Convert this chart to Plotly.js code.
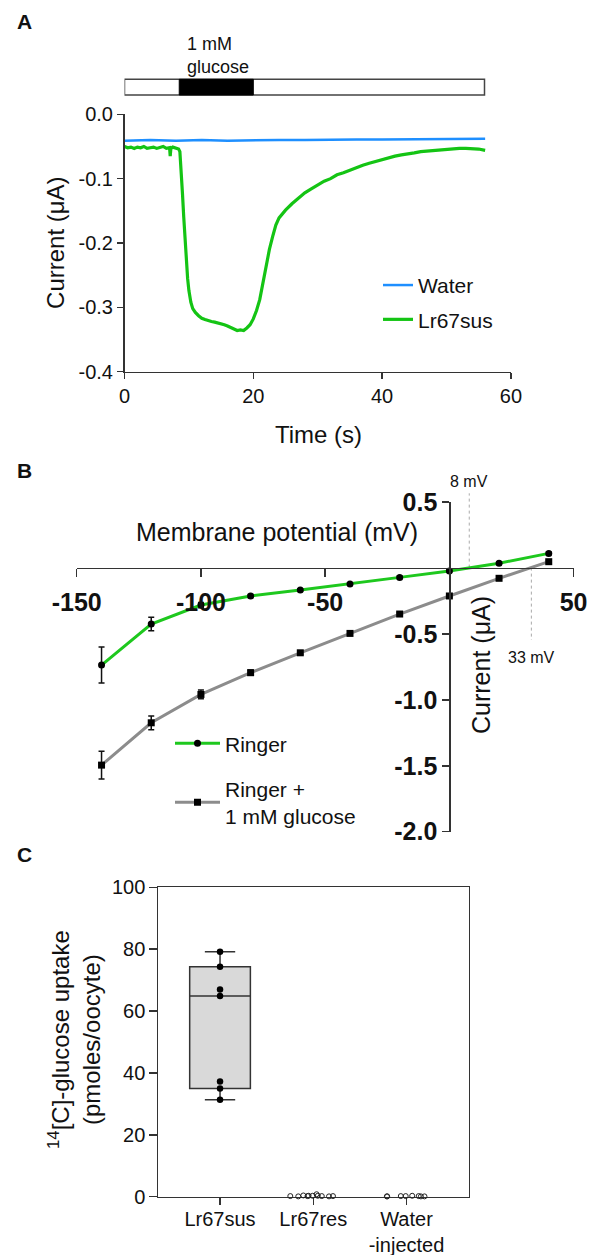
<!DOCTYPE html>
<html>
<head>
<meta charset="utf-8">
<script src="https://cdn.plot.ly/plotly-3.0.1.min.js"></script>
<style>html,body{margin:0;padding:0;background:#fff;}#chart{width:598px;height:1255px;}</style>
</head>
<body>
<div id="chart"></div>
<script>
// ---------- Panel A: current trace ----------
const waterTime = [0,4,8,12,16,20,24,28,32,36,40,44,48,52,56];
const waterCurrent = [-0.041,-0.040,-0.041,-0.040,-0.041,-0.040,-0.040,-0.040,-0.039,-0.039,-0.039,-0.039,-0.038,-0.038,-0.038];
const susTime = [0,0.5,1,1.5,2,2.5,3,3.5,4,4.5,5,5.5,6,6.5,7,7.1,7.2,7.5,8,8.4,8.6,8.8,9.0,9.2,9.4,9.6,9.8,10.0,10.3,10.6,11,11.5,12,12.5,13,13.5,14,14.5,15,15.5,16,16.5,17,17.5,18,18.5,19,19.5,20,20.5,21,21.5,22,22.5,23,23.5,24,24.5,25,26,27,28,29,30,31,32,33,34,35,36,37,38,39,40,41,42,43,44,45,46,47,48,49,50,51,52,53,54,55,56];
const susCurrent = [-0.050,-0.052,-0.051,-0.053,-0.051,-0.052,-0.050,-0.053,-0.052,-0.051,-0.053,-0.052,-0.050,-0.053,-0.052,-0.065,-0.053,-0.051,-0.053,-0.054,-0.058,-0.085,-0.123,-0.160,-0.195,-0.228,-0.255,-0.274,-0.292,-0.302,-0.308,-0.313,-0.317,-0.319,-0.321,-0.322,-0.323,-0.324,-0.325,-0.327,-0.329,-0.331,-0.334,-0.336,-0.335,-0.336,-0.332,-0.327,-0.318,-0.305,-0.288,-0.262,-0.232,-0.210,-0.190,-0.172,-0.161,-0.155,-0.149,-0.139,-0.131,-0.122,-0.116,-0.110,-0.104,-0.100,-0.094,-0.091,-0.087,-0.082,-0.079,-0.076,-0.073,-0.071,-0.068,-0.065,-0.063,-0.062,-0.060,-0.058,-0.057,-0.056,-0.055,-0.054,-0.054,-0.053,-0.053,-0.053,-0.054,-0.056];
const perfusion = [0, 55.9];      // recording bar (s)
const glucosePulse = [8.5, 20];   // 1 mM glucose application (s)
const aXTicks = [0,20,40,60];
const aXTickText = ['0','20','40','60'];
const aYTicks = [0,-0.1,-0.2,-0.3,-0.4];
const aYTickText = ['0.0','-0.1','-0.2','-0.3','-0.4'];

// ---------- Panel B: I-V curves ----------
const potential = [-140,-120,-100,-80,-60,-40,-20,0,20,40];
const ringerI = [-0.736,-0.425,-0.281,-0.212,-0.167,-0.121,-0.071,-0.023,0.036,0.111];
const ringerErr = [0.137,0.051,0.02,0.012,0.01,0.01,0.01,0.01,0.01,0.01];
const glucoseI = [-1.495,-1.174,-0.959,-0.794,-0.643,-0.496,-0.349,-0.212,-0.078,0.048];
const glucoseErr = [0.106,0.052,0.033,0.02,0.012,0.01,0.01,0.01,0.01,0.01];
const reversal = [8, 33];
const reversalText = ['8 mV','33 mV'];
const bXTicks = [-150,-100,-50,50];
const bXTickText = ['-150','-100','-50','50'];
const bYTicks = [0.5,-0.5,-1.0,-1.5,-2.0];
const bYTickText = ['0.5','-0.5','-1.0','-1.5','-2.0'];

// ---------- Panel C: uptake ----------
const categories = ['Lr67sus','Lr67res','Water-injected'];
const catLabels = ['Lr67sus','Lr67res','Water<br>-injected'];
const susUptake = [79.2,74.3,67.0,64.9,37.2,35.0,31.3];
const resUptake = [0.3,0.8,0.2,0.1,0.3,0.2,0.4,0.1,0.2,0.3,0.2];
const waterUptake = [0.1,0.2,0.1,0.2,0.1,0.3,0.1,0.2];
const cYTicks = [0,20,40,60,80,100];

const FONT = 'Liberation Sans, Arial, Helvetica, sans-serif';
const AX = '#333';
const W = 598, H = 1255;
const px = v => v / W;
const py = v => 1 - v / H;

const traces = [
  {x: waterTime, y: waterCurrent, type:'scatter', mode:'lines', name:'Water',
   line:{color:'#1e8fff', width:2.5}, xaxis:'x', yaxis:'y', legend:'legend', legendgroup:'a1'},
  {x: susTime, y: susCurrent, type:'scatter', mode:'lines', name:'Lr67sus',
   line:{color:'#14c414', width:3.2}, xaxis:'x', yaxis:'y', legend:'legend', legendgroup:'a2'},
  {x: potential, y: ringerI, type:'scatter', mode:'lines+markers', name:'Ringer',
   line:{color:'#1ec81e', width:3}, marker:{color:'#000', size:7, symbol:'circle'},
   error_y:{type:'data', array: ringerErr, visible:true, color:'#111', thickness:1.5, width:3},
   cliponaxis:false, xaxis:'x2', yaxis:'y2', legend:'legend2', legendgroup:'b1'},
  {x: potential, y: glucoseI, type:'scatter', mode:'lines+markers', name:'Ringer +<br>1 mM glucose',
   line:{color:'#8c8c8c', width:3}, marker:{color:'#000', size:7, symbol:'square'},
   error_y:{type:'data', array: glucoseErr, visible:true, color:'#111', thickness:1.5, width:3},
   cliponaxis:false, xaxis:'x2', yaxis:'y2', legend:'legend2', legendgroup:'b2'},
  // anchor trace so the framed axes of panel C are drawn (no visible marks)
  {type:'scatter', x:[null], y:[null], mode:'markers', marker:{opacity:0},
   showlegend:false, xaxis:'x3', yaxis:'y3'},
  {type:'box', x: susUptake.map(() => categories[0]), y: susUptake, name: categories[0],
   boxpoints:'all', jitter:0, pointpos:0, width:0.651, whiskerwidth:0.5, quartilemethod:'exclusive',
   fillcolor:'#d9d9d9', line:{color:AX, width:1.5}, marker:{color:'#000', size:6.5},
   showlegend:false, xaxis:'x4', yaxis:'y4'},
  {type:'box', x: resUptake.map(() => categories[1]), y: resUptake, name: categories[1],
   boxpoints:'all', jitter:1, pointpos:0, width:0.651, whiskerwidth:0.5,
   fillcolor:'rgba(0,0,0,0)', line:{color:'rgba(0,0,0,0)', width:1},
   marker:{symbol:'circle-open', color:'#222', size:5, line:{width:1}},
   showlegend:false, xaxis:'x4', yaxis:'y4'},
  {type:'box', x: waterUptake.map(() => categories[2]), y: waterUptake, name: categories[2],
   boxpoints:'all', jitter:1, pointpos:0, width:0.651, whiskerwidth:0.5,
   fillcolor:'rgba(0,0,0,0)', line:{color:'rgba(0,0,0,0)', width:1},
   marker:{symbol:'circle-open', color:'#222', size:5, line:{width:1}},
   showlegend:false, xaxis:'x4', yaxis:'y4'}
];

const baseAxis = {showgrid:false, zeroline:false, showline:true, linecolor:AX, linewidth:1.5,
  ticks:'outside', tickcolor:AX, tickwidth:1.5, fixedrange:true};

const layout = {
  width: W, height: H, autosize:false,
  margin:{l:0, r:0, t:0, b:0},
  paper_bgcolor:'#fff', plot_bgcolor:'rgba(0,0,0,0)',
  font:{family:FONT, color:'#111'},
  hovermode:false,
  xaxis: Object.assign({}, baseAxis, {domain:[px(124.5), px(510.9)], range:[0,60], anchor:'y',
    tickmode:'array', tickvals:aXTicks, ticktext:aXTickText, ticklen:6, tickfont:{size:20, family:FONT, color:'#111'}}),
  yaxis: Object.assign({}, baseAxis, {domain:[py(371.7), py(114.3)], range:[-0.4,0], anchor:'x',
    tickmode:'array', tickvals:aYTicks, ticktext:aYTickText, ticklen:6, tickfont:{size:20, family:FONT, color:'#111'}}),
  xaxis2: Object.assign({}, baseAxis, {domain:[px(76.7), px(573.6)], range:[-150,50], anchor:'free', position: py(567.6),
    tickmode:'array', tickvals:bXTicks, ticktext:bXTickText, ticklen:8, ticklabelstandoff:4,
    tickfont:{size:25, family:FONT, weight:'bold', color:'#111'}}),
  yaxis2: Object.assign({}, baseAxis, {domain:[py(831.7), py(502.1)], range:[-2,0.5], anchor:'free', position: px(449.3),
    tickmode:'array', tickvals:bYTicks, ticktext:bYTickText, ticklen:7,
    tickfont:{size:25, family:FONT, weight:'bold', color:'#111'}}),
  xaxis3: Object.assign({}, baseAxis, {domain:[px(158.3), px(468.7)], range:[-0.662,2.667], anchor:'y3', mirror:true,
    tickmode:'array', tickvals:[0,1,2], ticktext:catLabels, ticklen:7, ticklabelstandoff:-3,
    tickfont:{size:20, family:FONT, color:'#111'}}),
  yaxis3: Object.assign({}, baseAxis, {domain:[py(1196.7), py(887.3)], range:[0,100], anchor:'x3', mirror:true,
    tickmode:'array', tickvals:cYTicks, ticktext:cYTicks.map(String), ticklen:7.5,
    tickfont:{size:20, family:FONT, color:'#111'}}),
  xaxis4: {domain:[px(158.3), px(468.7)], range:[-0.662,2.667], type:'category', categoryarray:categories,
    anchor:'y4', visible:false, fixedrange:true},
  yaxis4: {domain:[py(1204.7), py(887.3)], range:[-8/3.094, 100], anchor:'x4', visible:false, fixedrange:true},
  legend: {x: px(378), y: py(264.9), xanchor:'left', yanchor:'top', bgcolor:'rgba(0,0,0,0)',
    font:{size:21, family:FONT, color:'#111'}, traceorder:'grouped', tracegroupgap:4},
  legend2: {x: px(170), y: py(723.2), xanchor:'left', yanchor:'top', bgcolor:'rgba(0,0,0,0)',
    font:{size:21, family:FONT, color:'#111'}, traceorder:'grouped', tracegroupgap:15, itemwidth:45},
  shapes: [
    {type:'rect', xref:'x', yref:'paper', x0:perfusion[0], x1:perfusion[1], y0:py(95), y1:py(79.3),
     fillcolor:'#fff', line:{color:'#444', width:1.5}},
    {type:'rect', xref:'x', yref:'paper', x0:glucosePulse[0], x1:glucosePulse[1], y0:py(95), y1:py(79.3),
     fillcolor:'#000', line:{color:'#000', width:1}},
    {type:'line', xref:'x2', yref:'paper', x0:reversal[0], x1:reversal[0], y0:py(567.6), y1:py(493.3),
     line:{color:'#aaa', width:1, dash:'dot'}, layer:'below'},
    {type:'line', xref:'x2', yref:'paper', x0:reversal[1], x1:reversal[1], y0:py(567.6), y1:py(640),
     line:{color:'#aaa', width:1, dash:'dot'}, layer:'below'}
  ],
  annotations: [
    {text:'<b>A</b>', xref:'paper', yref:'paper', x:px(15), y:py(21), xanchor:'left', yanchor:'middle', showarrow:false, font:{size:21}},
    {text:'<b>B</b>', xref:'paper', yref:'paper', x:px(15), y:py(470.5), xanchor:'left', yanchor:'middle', showarrow:false, font:{size:21}},
    {text:'<b>C</b>', xref:'paper', yref:'paper', x:px(15), y:py(855), xanchor:'left', yanchor:'middle', showarrow:false, font:{size:21}},
    {text:'1 mM<br>glucose', xref:'paper', yref:'paper', x:px(185), y:py(56), xanchor:'left', yanchor:'middle', align:'left', showarrow:false, font:{size:18}},
    {text:'Current (μA)', xref:'paper', yref:'paper', x:px(55.4), y:py(242.5), textangle:-90, xanchor:'center', yanchor:'middle', showarrow:false, font:{size:24}},
    {text:'Time (s)', xref:'paper', yref:'paper', x:px(318), y:py(434), xanchor:'center', yanchor:'middle', showarrow:false, font:{size:24}},
    {text:'Membrane potential (mV)', xref:'paper', yref:'paper', x:px(276.7), y:py(531.7), xanchor:'center', yanchor:'middle', showarrow:false, font:{size:25}},
    {text:'Current (μA)', xref:'paper', yref:'paper', x:px(481), y:py(665), textangle:-90, xanchor:'center', yanchor:'middle', showarrow:false, font:{size:25}},
    {text:reversalText[0], xref:'x2', yref:'paper', x:reversal[0], y:py(481), xanchor:'center', yanchor:'middle', showarrow:false, font:{size:16}},
    {text:reversalText[1], xref:'x2', yref:'paper', x:reversal[1], y:py(657.5), xanchor:'center', yanchor:'middle', showarrow:false, font:{size:16}},
    {text:'<sup>14</sup>[C]-glucose uptake<br>(pmoles/oocyte)', xref:'paper', yref:'paper', x:px(74), y:py(1040), textangle:-90, xanchor:'center', yanchor:'middle', showarrow:false, font:{size:24}}
  ]
};

Plotly.newPlot('chart', traces, layout, {displayModeBar:false, staticPlot:true});
</script>
</body>
</html>
